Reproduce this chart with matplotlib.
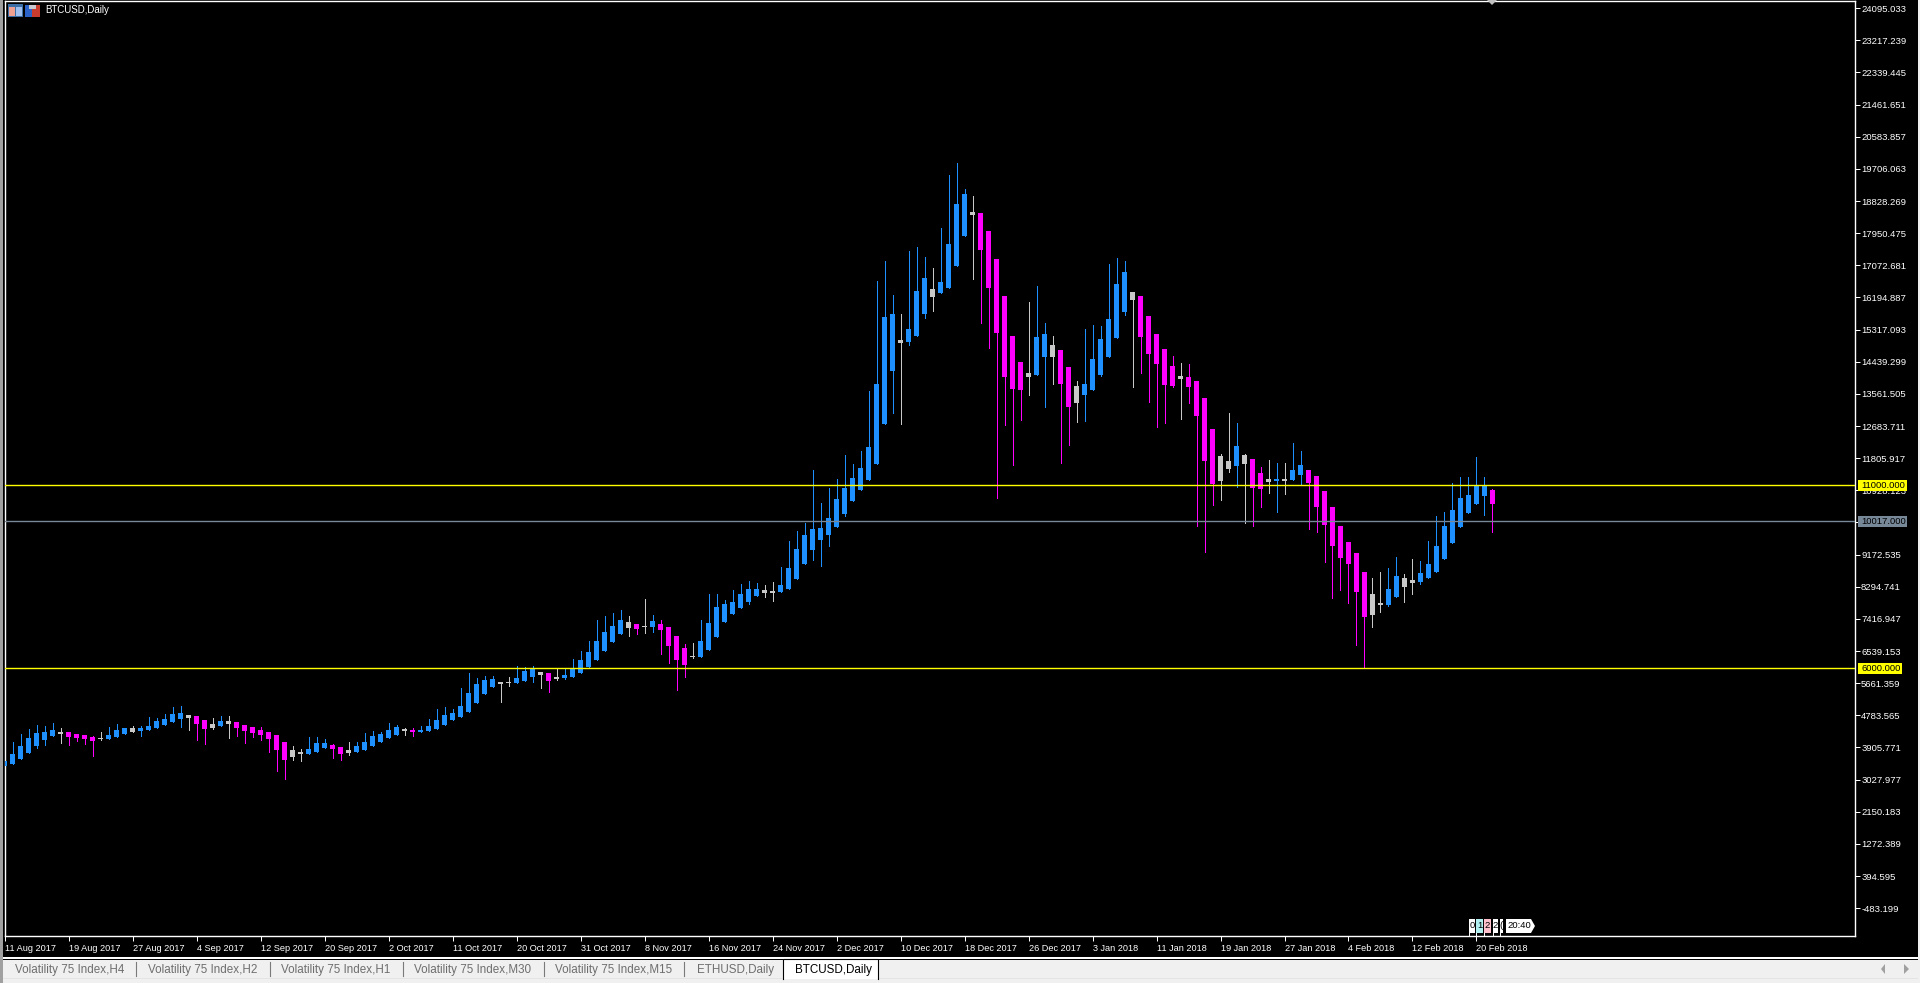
import numpy as np
import matplotlib
matplotlib.use('Agg')
import matplotlib.pyplot as plt
from matplotlib.patches import Rectangle, Polygon
from matplotlib.transforms import blended_transform_factory

plt.rcParams['font.family'] = ['Liberation Sans', 'DejaVu Sans']

# one letter per daily bar: u up (blue), d down (magenta), n neutral (grey)
bar_kinds = ('uuuuuuu' 'n' 'dddd' 'n' 'uuu' 'n' 'uuuuuu' 'n' 'dd' 'n' 'u' 'n' 'ddddddd' 'nn' 'uuu' 'dd' 'n'
             'uuuuuu' 'n' 'd' 'uuuuuuuuuu' 'nn' 'uuu' 'n' 'd' 'n' 'uuuuuuuu' 'n' 'd' 'n' 'u' 'dddd' 'n'
             'uuuuuuuu' 'nn' 'uuuuuuuuuuuuuuu' 'n' 'uuu' 'n' 'uuuu' 'n' 'dddddd' 'n' 'uu' 'n' 'dd' 'n'
             'uuuuuu' 'n' 'ddddd' 'n' 'dddd' 'nn' 'u' 'n' 'dd' 'n' 'u' 'n' 'uu' 'dddddddd' 'nn' 'uu' 'nn'
             'uuuuuuuuu' 'd')

highs = [3470, 3989, 4208, 4344, 4454, 4426, 4508, 4372, 4262, 4208, 4180, 4153, 4262, 4399, 4481, 4372,
         4426, 4426, 4672, 4645, 4754, 4945, 4972, 4727, 4699, 4590, 4645, 4699, 4699, 4535, 4454, 4399,
         4399, 4262, 4180, 3989, 3880, 3798, 4126, 4126, 4071, 3935, 3853, 3989, 3989, 4235, 4290, 4262,
         4508, 4454, 4372, 4372, 4426, 4617, 4890, 4945,
         4891, 5464, 5874, 5737, 5792, 5792, 5628, 5765, 6065, 6038, 6065, 5901, 5874, 5983, 5983, 6256,
         6475, 6748, 7321, 7431, 7512, 7594, 7431, 7212, 7895, 7458, 7321, 7130, 6884, 6666, 6693, 7321,
         8031, 8031, 7867, 8141, 8304, 8386, 8332, 8277, 8359, 8769, 9479, 9752, 9971, 11418, 10517, 10926,
         11172, 11828, 11582, 11937, 13575, 16580, 17126, 16197, 15678, 17399, 17508, 17235, 16935, 18027,
         19474, 19802, 19092, 18901, 18437, 17945, 17180, 16170, 15078, 14367, 16006, 16443,
         15432, 15077, 14695, 14231, 13848, 15268, 15378, 15350, 17044, 17207, 17126, 16279, 16170, 15624,
         15132, 14722, 14531, 14340, 14313, 13848, 13384, 12538, 11855, 12975, 12701, 11855, 11718, 11500,
         11691, 11609, 11609,
         12155, 11937, 11418, 11254, 10844, 10407, 9888, 9451, 9151, 8632, 8468, 8632, 8741, 9042, 8577,
         8987, 8932, 9479, 10161, 10271, 11063, 11226, 11226, 11773, 11226, 10899]

body_top = [3470, 3662, 3880, 4099, 4235, 4262, 4317, 4262, 4262, 4208, 4180, 4126, 4099, 4180, 4317, 4372,
            4372, 4372, 4426, 4563, 4617, 4754, 4781, 4727, 4699, 4590, 4481, 4563, 4563, 4535, 4454, 4399,
            4317, 4262, 4180, 3989, 3771, 3716, 3798, 3962, 3962, 3907, 3853, 3771, 3880, 3989, 4153, 4208,
            4317, 4399, 4344, 4317, 4317, 4426, 4590, 4727,
            4782, 4973, 5328, 5573, 5683, 5710, 5628, 5628, 5737, 5928, 5983, 5901, 5874, 5765, 5819, 5983,
            6229, 6447, 6748, 6994, 7157, 7321, 7267, 7212, 7157, 7294, 7212, 7130, 6884, 6557, 6338, 6748,
            7239, 7676, 7758, 7813, 8031, 8168, 8168, 8141, 8113, 8277, 8741, 9260, 9643, 9807, 9834, 10107,
            10626, 10926, 11200, 11473, 12046, 13767, 15596, 15678, 14968, 15269, 16306, 16661, 16361, 16552,
            17590, 18682, 18955, 18464, 18437, 17945, 17180, 16170, 15078, 14367, 14067, 15050,
            15132, 14832, 14695, 14231, 13712, 13766, 14449, 14995, 15542, 16497, 16825, 16279, 16170, 15624,
            15132, 14722, 14258, 13985, 13958, 13848, 13384, 12538, 11800, 11664, 12073, 11828, 11718, 11336,
            11172, 11172, 11172,
            11418, 11554, 11418, 11254, 10844, 10407, 9888, 9451, 9151, 8632, 8031, 7786, 8168, 8523, 8468,
            8414, 8605, 8851, 9342, 9888, 10325, 10653, 10735, 10981, 10981, 10871]

body_bot = [3334, 3388, 3525, 3689, 3880, 4044, 4153, 4208, 4126, 4099, 4071, 4017, 4062, 4071, 4126, 4208,
            4262, 4290, 4317, 4372, 4454, 4535, 4617, 4645, 4481, 4344, 4372, 4426, 4481, 4372, 4290, 4235,
            4180, 4071, 3771, 3498, 3580, 3662, 3662, 3716, 3826, 3798, 3662, 3689, 3716, 3771, 3880, 3989,
            4099, 4180, 4299, 4271, 4262, 4290, 4344, 4454,
            4590, 4672, 4809, 5055, 5300, 5492, 5573, 5592, 5601, 5655, 5765, 5819, 5655, 5710, 5737, 5765,
            5874, 6038, 6229, 6475, 6720, 6939, 7103, 7076, 7130, 7130, 7048, 6611, 6229, 6092, 6311, 6311,
            6502, 6857, 7267, 7485, 7649, 7813, 7977, 8059, 8059, 8086, 8168, 8441, 8851, 9233, 9507, 9643,
            9861, 10217, 10571, 10872, 11145, 11582, 12674, 14122, 14886, 14914, 15078, 15678, 16143, 16252,
            16388, 16989, 17808, 18382, 17426, 16388, 15159, 13958, 13630, 13603, 13958, 14012,
            14504, 14504, 13766, 13138, 13248, 13466, 13603, 14012, 14504, 15023, 15733, 16060, 15050, 14586,
            14313, 13739, 13712, 13903, 13685, 12893, 11664, 11035, 11117, 11445, 11527, 11582, 10926, 10899,
            11090, 11117, 11117,
            11145, 11281, 11063, 10407, 9916, 9342, 9014, 8851, 8086, 7403, 7458, 7731, 7731, 7949, 8222,
            8332, 8359, 8468, 8632, 8987, 9424, 9861, 10243, 10489, 10708, 10489]

lows = [3334, 3388, 3525, 3689, 3826, 3907, 4153, 3962, 3907, 4017, 3935, 3607, 4044, 4071, 4126, 4208,
        4262, 4153, 4317, 4372, 4454, 4535, 4399, 4317, 4044, 3935, 4344, 4426, 4099, 4153, 3962, 4126,
        4044, 3716, 3197, 2979, 3498, 3470, 3662, 3716, 3826, 3552, 3498, 3634, 3716, 3771, 3880, 3989,
        4099, 4180, 4180, 4153, 4262, 4290, 4344, 4454,
        4590, 4672, 4809, 5055, 5300, 5492, 5082, 5519, 5601, 5655, 5628, 5464, 5355, 5683, 5710, 5765,
        5874, 6038, 6229, 6475, 6720, 6939, 6884, 6939, 6966, 6994, 6393, 6147, 5410, 5765, 6284, 6311,
        6502, 6857, 7267, 7485, 7649, 7758, 7977, 7949, 7840, 8086, 8168, 8441, 8851, 8960, 8796, 9343,
        9861, 10162, 10571, 10872, 11145, 11582, 12674, 12975, 12674, 14832, 15078, 15569, 15760, 16252,
        16388, 16989, 17808, 16634, 15433, 14750, 10653, 12647, 11555, 12784, 13466, 14012,
        13138, 13766, 11609, 12101, 12729, 12756, 13603, 13985, 14504, 15023, 15651, 13685, 14067, 13275,
        12592, 12701, 13685, 12811, 13248, 9888, 9179, 10462, 10599, 11363, 10953, 9970, 9888, 10407,
        10790, 10271, 10762,
        11145, 11035, 9806, 9724, 8905, 7922, 8140, 7786, 6639, 6001, 7130, 7540, 7704, 7949, 7813,
        8031, 8304, 8468, 8632, 8987, 9424, 9861, 10243, 10489, 10189, 9724]

date_labels = ['11 Aug 2017', '19 Aug 2017', '27 Aug 2017', '4 Sep 2017', '12 Sep 2017', '20 Sep 2017',
               '2 Oct 2017', '11 Oct 2017', '20 Oct 2017', '31 Oct 2017', '8 Nov 2017', '16 Nov 2017',
               '24 Nov 2017', '2 Dec 2017', '10 Dec 2017', '18 Dec 2017', '26 Dec 2017', '3 Jan 2018',
               '11 Jan 2018', '19 Jan 2018', '27 Jan 2018', '4 Feb 2018', '12 Feb 2018', '20 Feb 2018']
date_bars = [0, 8, 16, 24, 32, 40, 48, 56, 64, 72, 80, 88, 96, 104, 112, 120, 128, 136, 144, 152, 160, 168, 176, 184]

price_labels = ['24095.033', '23217.239', '22339.445', '21461.651', '20583.857', '19706.063', '18828.269',
                '17950.475', '17072.681', '16194.887', '15317.093', '14439.299', '13561.505', '12683.711',
                '11805.917', '10928.123', '10050.329', '9172.535', '8294.741', '7416.947', '6539.153',
                '5661.359', '4783.565', '3905.771', '3027.977', '2150.183', '1272.389', '394.595', '-483.199']
price_levels = [float(p) for p in price_labels]

yellow_levels = [11000.0, 6000.0]
grey_level = 10017.0

tab_names = ['Volatility 75 Index,H4', 'Volatility 75 Index,H2', 'Volatility 75 Index,H1',
             'Volatility 75 Index,M30', 'Volatility 75 Index,M15', 'ETHUSD,Daily', 'BTCUSD,Daily']

BLUE = '#1e90ff'
MAGENTA = '#ff00ff'
GREY = '#c8c8c8'
colors = {'u': BLUE, 'd': MAGENTA, 'n': GREY}

W, H = 1920, 983
fig = plt.figure(figsize=(W / 100, H / 100), dpi=100, facecolor='#000000')


def fx(px):
    return px / W


def fy(py):
    return 1 - py / H


def box(x0, y0, x1, y1, color, **kw):
    # rectangle given in picture pixels, top-left origin
    fig.add_artist(Rectangle((fx(x0), fy(y1)), (x1 - x0) / W, (y1 - y0) / H, transform=fig.transFigure,
                             facecolor=color, edgecolor='none', **kw))


# chart area is at x 5..1855, y 1..936
ax = fig.add_axes([fx(5), fy(936), (1855 - 5) / W, (936 - 1) / H], facecolor='black')
ax.set_xlim((5 - 4.3) / 8, (1855 - 4.3) / 8)
ax.set_ylim(11000 + 27.31 * (485.3 - 936), 11000 + 27.31 * (485.3 - 1))

n = len(highs)
x = np.arange(n)
bar_colors = [colors[k] for k in bar_kinds]
highs_a, lows_a = np.array(highs), np.array(lows)
top_a, bot_a = np.array(body_top), np.array(body_bot)

ax.vlines(x, lows_a, highs_a, colors=bar_colors, linewidth=0.72, antialiased=False, zorder=2)
ax.bar(x, top_a - bot_a, bottom=bot_a, width=5 / 8, color=bar_colors, linewidth=0, antialiased=False, zorder=3)

for lev in yellow_levels:
    ax.axhline(lev, color='#ffff00', linewidth=1.0, zorder=4)
ax.axhline(grey_level, color='#778899', linewidth=1.0, zorder=4)

for s in ax.spines.values():
    s.set_color('white')
    s.set_linewidth(1.0)

# tick labels sit about 2.5 px under their true price in the terminal
ax.yaxis.tick_right()
ax.set_yticks(np.array(price_levels) - 65)
ax.set_yticklabels(price_labels)
ax.tick_params(axis='y', colors='white', length=3.6, width=0.72, pad=0.8, labelsize=6.8)
ax.set_xticks(date_bars)
ax.set_xticklabels(date_labels, ha='left')
ax.tick_params(axis='x', colors='white', length=3.6, width=0.72, pad=2, labelsize=6.6)
for t in ax.get_xticklabels():
    t.set_clip_on(False)

# price tags on the right
trans = blended_transform_factory(fig.transFigure, ax.transData)
for lev, lab, col, right in [(11000.0, '11000.000', '#ffff00', 1907), (10017.0, '10017.000', '#778899', 1907),
                             (6000.0, '6000.000', '#ffff00', 1902)]:
    ax.add_patch(Rectangle((fx(1858), lev - 150), (right - 1858) / W, 300, transform=trans, facecolor=col,
                           edgecolor='none', clip_on=False, zorder=6))
    ax.text(fx(1861), lev, lab, transform=trans, color='black', fontsize=6.8, va='center', ha='left', zorder=7,
            clip_on=False)

# shift marker on the top edge
fig.add_artist(Polygon([[fx(1487), fy(0)], [fx(1497), fy(0)], [fx(1492), fy(5)]], closed=True,
                       transform=fig.transFigure, facecolor='#c0c0c0', edgecolor='none', zorder=9))

# title and icons
fig.text(fx(45), fy(10), 'BTCUSD,Daily', color='white', fontsize=7, va='center', ha='left')
box(8, 4, 23, 17, '#3a6ea5', zorder=9)
box(9, 7, 15, 16, '#f0a090', zorder=9)
box(16, 7, 22, 16, '#a0c0f0', zorder=9)
box(25, 5, 32, 17, '#2a62c8', zorder=9)
box(32, 5, 40, 17, '#c83c30', zorder=9)
box(29, 5, 36, 9, '#c8c8d0', zorder=9)

# left edge of the window
box(0, 0, 3, 983, '#a0a0a0', zorder=9)
box(1918, 0, 1920, 983, '#f0f0f0', zorder=9)

# countdown widget above the time axis
widget_cells = [(1469, 1475, '#ffffff', '0'), (1476, 1483, '#b0f0f0', '1'), (1484, 1491, '#ffc0cb', '2'),
                (1493, 1498, '#ffffff', '2'), (1500, 1503, '#ffffff', '(')]
for x0, x1, col, ch in widget_cells:
    box(x0, 919, x1, 933, col, zorder=9)
    fig.text(fx((x0 + x1) / 2), fy(926), ch, color='black', fontsize=6.8, va='center', ha='center', zorder=10)
    fig.add_artist(plt.Line2D([fx(x0), fx(x0)], [fy(933), fy(936)], color='white', linewidth=0.7, zorder=9))
fig.add_artist(Polygon([[fx(1506), fy(919)], [fx(1531), fy(919)], [fx(1535), fy(926)], [fx(1531), fy(933)],
                       [fx(1506), fy(933)]], closed=True, transform=fig.transFigure, facecolor='white',
                       edgecolor='none', zorder=9))
fig.text(fx(1507), fy(926), '20:40', color='black', fontsize=6.8, va='center', ha='left', zorder=10)

# tab strip
box(0, 957, 1920, 959, '#ffffff', zorder=8)
box(0, 959, 1920, 960, '#000000', zorder=8)
box(0, 960, 1920, 983, '#f0f0f0', zorder=8)
box(0, 978, 1920, 979, '#e4e4e4', zorder=8)
box(783, 959, 878, 979, '#ffffff', zorder=8)
fig.add_artist(plt.Line2D([fx(783), fx(783), fx(878), fx(878)], [fy(979), fy(959), fy(959), fy(979)],
                          color='black', linewidth=0.8, zorder=9))
tab_x = [15, 148, 281, 414, 555, 697, 795]
seps = [136, 270, 403, 544, 684]
for name, tx in zip(tab_names, tab_x):
    c = 'black' if name == 'BTCUSD,Daily' else '#6e6e6e'
    fig.text(fx(tx), fy(969.5), name, color=c, fontsize=8.4, va='center', ha='left', zorder=10)
for sx in seps:
    fig.add_artist(plt.Line2D([fx(sx), fx(sx)], [fy(962), fy(976)], color='#7a7a7a', linewidth=0.8, zorder=9))

# tab scroll arrows
fig.add_artist(Polygon([[fx(1881), fy(969)], [fx(1885), fy(964)], [fx(1885), fy(974)]], closed=True,
                       transform=fig.transFigure, facecolor='#a0a0a0', edgecolor='none', zorder=9))
fig.add_artist(Polygon([[fx(1909), fy(969)], [fx(1904), fy(964)], [fx(1904), fy(974)]], closed=True,
                       transform=fig.transFigure, facecolor='#a0a0a0', edgecolor='none', zorder=9))

fig.savefig('out.png', dpi=100, facecolor=fig.get_facecolor())
print(n, len(bar_kinds), len(body_top), len(body_bot), len(lows))
